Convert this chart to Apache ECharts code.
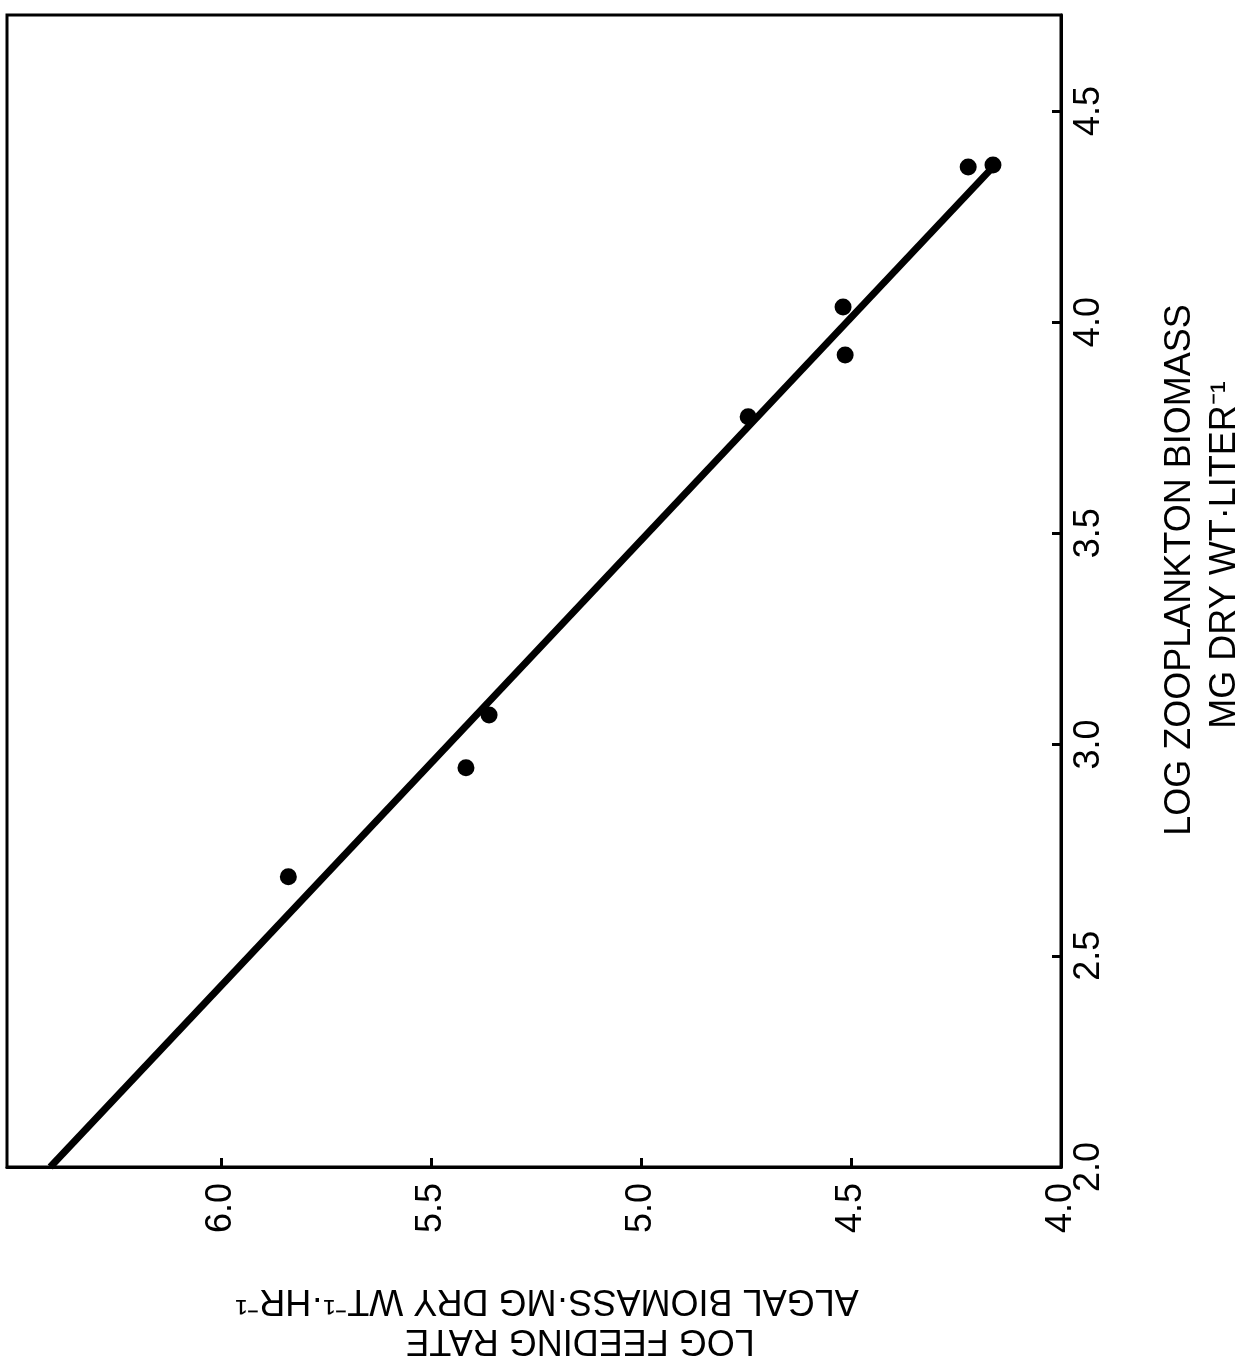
<!DOCTYPE html>
<html><head><meta charset="utf-8">
<script src="https://cdn.jsdelivr.net/npm/echarts@6/dist/echarts.min.js"></script>
<style>html,body{margin:0;padding:0;background:#fff}#c{width:1259px;height:1366px}</style>
</head><body><div id="c"></div>
<script>
// Log feeding rate (algal biomass) - bottom axis (inverted)
const feedingRate = [5.840, 5.417, 5.362, 4.745, 4.519, 4.514, 4.221, 4.162];
// Log zooplankton biomass - right axis
const zooBiomass = [2.687, 2.945, 3.070, 3.776, 4.036, 3.922, 4.367, 4.372];
// Regression line endpoints
const lineFeeding = [6.407, 4.169];
const lineZoo = [2.0, 4.360];
const xTicks = [4.0, 4.5, 5.0, 5.5, 6.0];
const yTicks = [2.0, 2.5, 3.0, 3.5, 4.0, 4.5];

const FONT = '"Liberation Sans", Arial, sans-serif';
const chart = echarts.init(document.getElementById('c'), null, {renderer: 'canvas'});
const pts = feedingRate.map((v, i) => [v, zooBiomass[i]]);
const linePts = lineFeeding.map((v, i) => [v, lineZoo[i]]);

chart.setOption({
  animation: false,
  backgroundColor: '#fff',
  grid: {left: 7, right: 198, top: 15, bottom: 199, show: true, borderColor: '#000', borderWidth: 3,
    containLabel: false, outerBoundsMode: 'none'},
  xAxis: {
    type: 'value', min: 4.0, max: 6.51, interval: 0.5, inverse: true, position: 'bottom',
    splitLine: {show: false},
    axisLine: {show: true, lineStyle: {color: '#000', width: 3}},
    axisTick: {show: true, inside: true, length: 9, lineStyle: {color: '#000', width: 3}, customValues: xTicks},
    axisLabel: {rotate: 90, margin: 16, color: '#000', fontSize: 36, fontFamily: FONT,
      customValues: xTicks, formatter: v => v.toFixed(1)}
  },
  yAxis: {
    type: 'value', min: 2.0, max: 4.727, interval: 0.5, position: 'right',
    splitLine: {show: false},
    axisLine: {show: true, lineStyle: {color: '#000', width: 3}},
    axisTick: {show: true, inside: true, length: 9, lineStyle: {color: '#000', width: 3}, customValues: yTicks},
    axisLabel: {rotate: 90, margin: 10, color: '#000', fontSize: 36, fontFamily: FONT,
      customValues: yTicks, formatter: v => v.toFixed(1)}
  },
  series: [
    {type: 'line', data: linePts, symbol: 'none', clip: true,
      lineStyle: {color: '#000', width: 7}, z: 2},
    {type: 'scatter', data: pts, symbol: 'circle', symbolSize: 17,
      itemStyle: {color: '#000', opacity: 1}, z: 3}
  ],
  graphic: [
    {type: 'text', x: 1180, y: 570, rotation: Math.PI / 2,
      style: {text: 'LOG ZOOPLANKTON BIOMASS', font: '36px ' + FONT, fill: '#000', align: 'center', verticalAlign: 'middle'}},
    {type: 'text', x: 1225, y: 555, rotation: Math.PI / 2,
      style: {text: 'MG DRY WT\u00B7LITER\u207B\u00B9', font: '36px ' + FONT, fill: '#000', align: 'center', verticalAlign: 'middle'}},
    {type: 'text', x: 547, y: 1300, rotation: Math.PI,
      style: {text: 'ALGAL BIOMASS\u00B7MG DRY WT\u207B\u00B9\u00B7HR\u207B\u00B9', font: '36px ' + FONT, fill: '#000', align: 'center', verticalAlign: 'middle'}},
    {type: 'text', x: 580, y: 1340, rotation: Math.PI,
      style: {text: 'LOG FEEDING RATE', font: '36px ' + FONT, fill: '#000', align: 'center', verticalAlign: 'middle'}}
  ]
});
</script></body></html>
